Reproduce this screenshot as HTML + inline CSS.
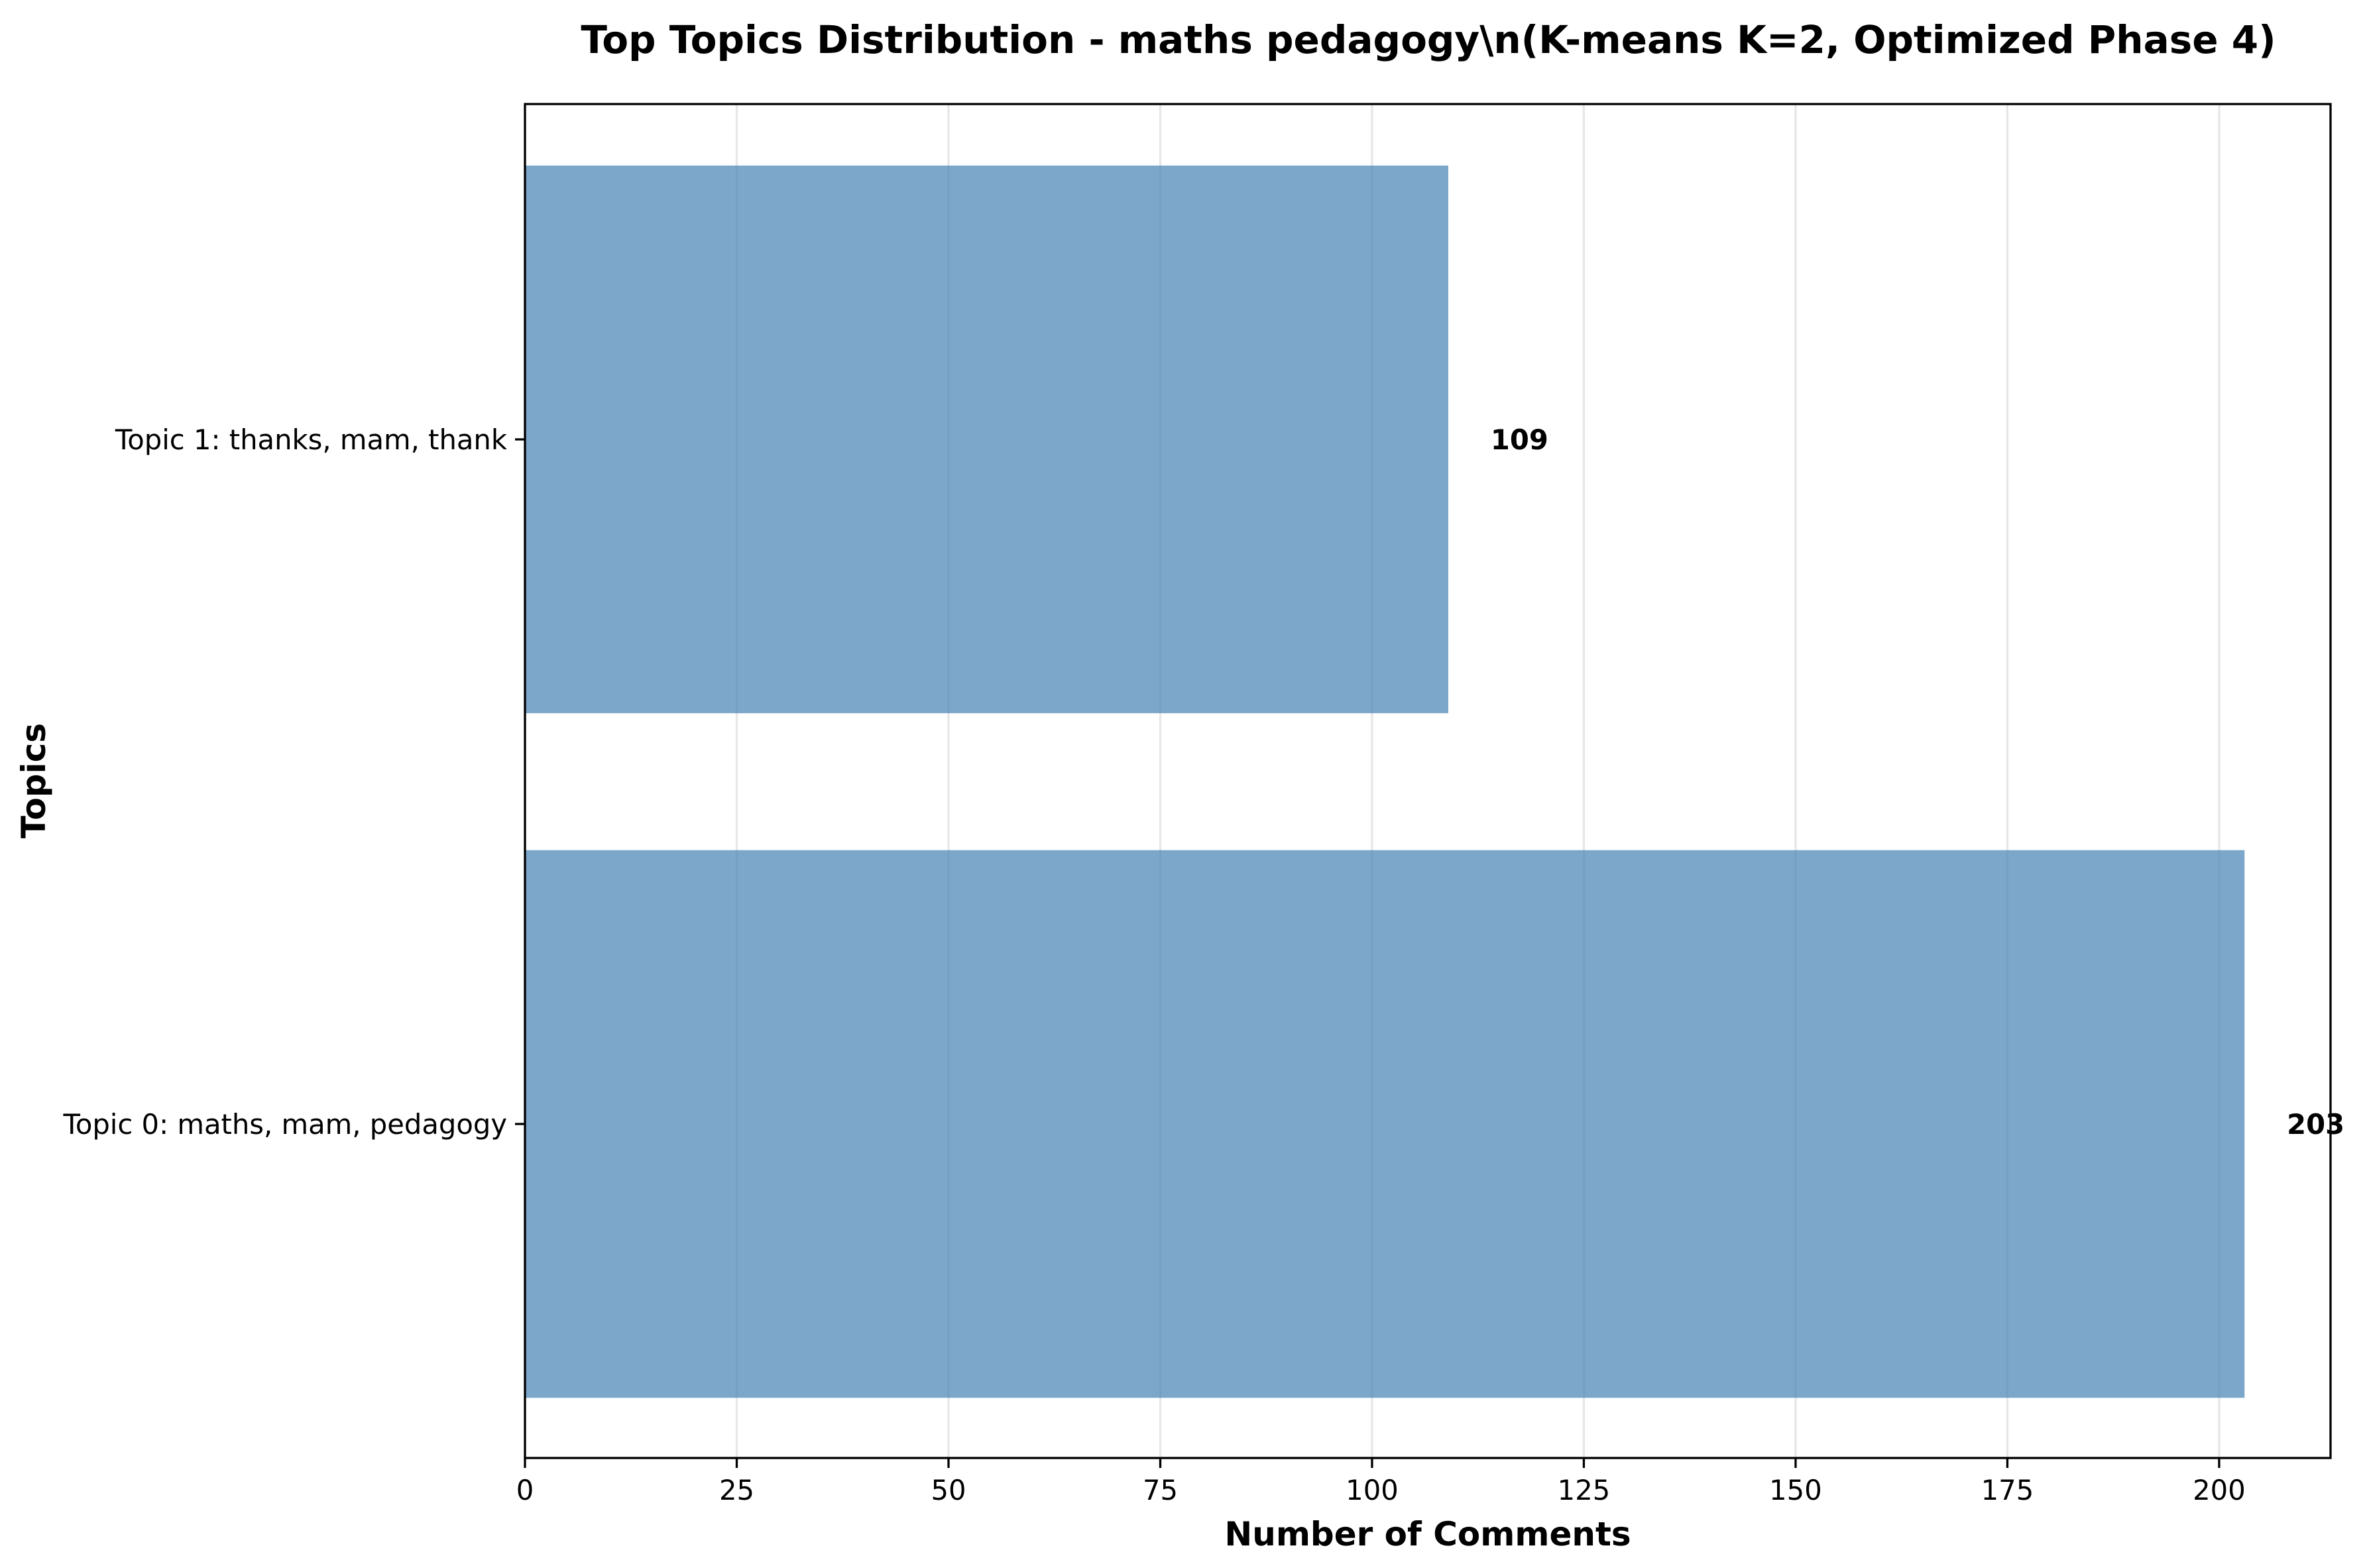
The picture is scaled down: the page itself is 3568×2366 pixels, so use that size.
<!DOCTYPE html>
<html><head><meta charset="utf-8"><style>
html,body{margin:0;padding:0;background:#fff}
svg{display:block}
text{font-family:"DejaVu Sans","Liberation Sans",sans-serif;fill:#000}
</style></head><body>
<svg id="chart" width="3568" height="2366" viewBox="0 0 3568 2366">
<rect width="3568" height="2366" fill="#fff"/>
<g id="grid"></g><g id="bars"></g><g id="axes"></g>
<text x="2155" y="80" text-anchor="middle" font-size="58" font-weight="bold">Top Topics Distribution - maths pedagogy\n(K-means K=2, Optimized Phase 4)</text>
<text x="2154" y="2332" text-anchor="middle" font-size="50" font-weight="bold">Number of Comments</text>
<text transform="translate(68,1178) rotate(-90)" text-anchor="middle" font-size="50" font-weight="bold">Topics</text>
</svg>
<script>
const categories = ["Topic 0: maths, mam, pedagogy", "Topic 1: thanks, mam, thank"];
const values = [203, 109];
const xTicks = [0, 25, 50, 75, 100, 125, 150, 175, 200];

const L = 792, R = 3516, T = 157, B = 2200;
const xMax = Math.max(...values) * 1.05;
const x = v => L + (v / xMax) * (R - L);
const unitH = 1033;
const y = i => 1696 - i * unitH;
const NS = "http://www.w3.org/2000/svg";
function mk(tag, attrs, parent, txt) {
  const e = document.createElementNS(NS, tag);
  for (const k in attrs) e.setAttribute(k, attrs[k]);
  if (txt !== undefined) e.textContent = txt;
  parent.appendChild(e);
  return e;
}
const grid = document.getElementById('grid');
const bars = document.getElementById('bars');
const axes = document.getElementById('axes');
xTicks.forEach(t => {
  const g = mk('line', {x1: x(t), x2: x(t), y1: T, y2: B, stroke: '#b0b0b0', 'stroke-opacity': 0.3, 'stroke-width': 3.3}, grid);
  
  
  const tk = mk('line', {x1: x(t), x2: x(t), y1: B, y2: B + 15, stroke: '#000', 'stroke-width': 3.3}, axes);
  
  
  const lb = mk('text', {x: x(t), y: B + 63, 'text-anchor': 'middle', 'font-size': 41.7}, axes, String(t));
  
  
});
categories.forEach((c, i) => {
  const cy = y(i), h = unitH * 0.8;
  const r = mk('rect', {x: L, y: cy - h / 2, width: x(values[i]) - L, height: h, fill: '#4682b4', 'fill-opacity': 0.7}, bars);
  
  
  const v = mk('text', {x: x(values[i] + 5), y: cy + 15, 'font-size': 41.7, 'font-weight': 'bold'}, bars, String(values[i]));
  
  
  const tk = mk('line', {x1: L - 15, x2: L, y1: cy, y2: cy, stroke: '#000', 'stroke-width': 3.3}, axes);
  
  
  const lb = mk('text', {x: L - 27, y: cy + 15, 'text-anchor': 'end', 'font-size': 41.7}, axes, c);
  
  
});
const frame = mk('rect', {x: L, y: T, width: R - L, height: B - T, fill: 'none', stroke: '#000', 'stroke-width': 3.3}, axes);


</script>
</body></html>
